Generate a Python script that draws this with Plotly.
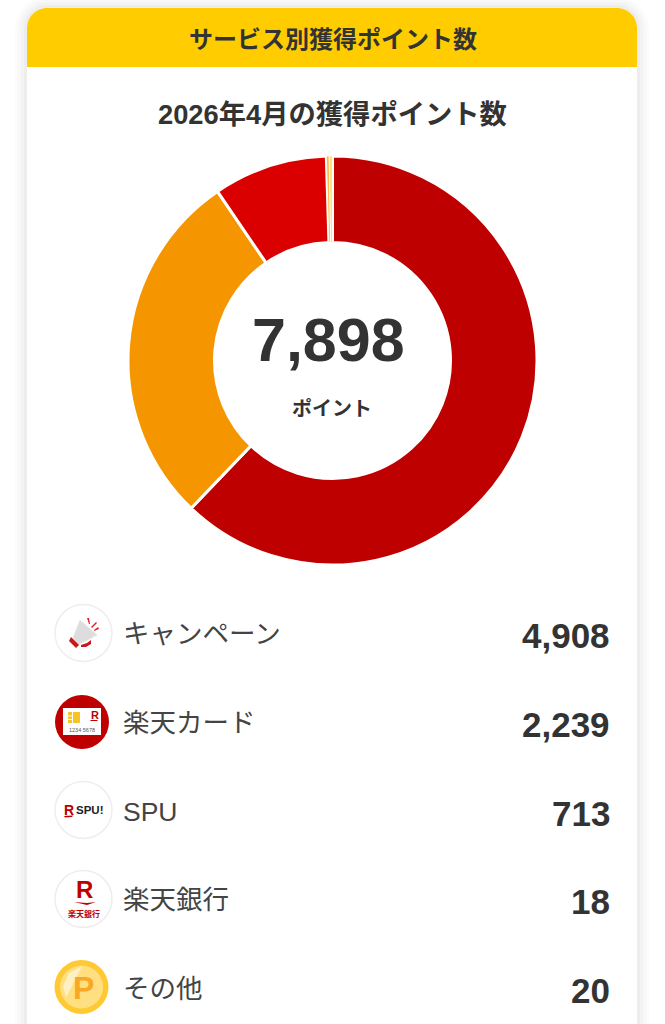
import plotly.graph_objects as go

W, H = 665, 1024

labels = ['キャンペーン', '楽天カード', 'SPU', '楽天銀行', 'その他']
points = [4908, 2239, 713, 18, 20]
colors = ['#BF0000', '#F59600', '#DA0000', '#FFB74D', '#FFE082']
total_text = '7,898'
header_text = 'サービス別獲得ポイント数'
chart_title = '2026年4月の獲得ポイント数'
unit_text = 'ポイント'

FONT = 'Liberation Sans, Noto Sans CJK JP, sans-serif'
JP = 'Noto Sans CJK JP, sans-serif'
INK = '#333333'


def px(x):
    return x / W


def py(y):
    return 1 - y / H


def poly(points_, fill, line=None, lw=0):
    path = 'M ' + ' L '.join(f'{px(x)} {py(y)}' for x, y in points_) + ' Z'
    return dict(type='path', path=path, xref='paper', yref='paper', fillcolor=fill,
                line=dict(color=line or fill, width=lw))


def circle(cx, cy, r, fill, line=None, lw=0):
    return dict(type='circle', xref='paper', yref='paper',
                x0=px(cx - r), x1=px(cx + r), y0=py(cy + r), y1=py(cy - r),
                fillcolor=fill, line=dict(color=line or fill, width=lw))


def top_round(x0, y0, x1, y1, r, fill, layer='below'):
    # rounded on the top corners only
    c = 0.45 * r
    path = (f'M {px(x0)} {py(y1)} L {px(x0)} {py(y0 + r)} '
            f'C {px(x0)} {py(y0 + c)} {px(x0 + c)} {py(y0)} {px(x0 + r)} {py(y0)} '
            f'L {px(x1 - r)} {py(y0)} '
            f'C {px(x1 - c)} {py(y0)} {px(x1)} {py(y0 + c)} {px(x1)} {py(y0 + r)} '
            f'L {px(x1)} {py(y1)} Z')
    return dict(type='path', path=path, xref='paper', yref='paper', fillcolor=fill,
                line=dict(width=0), layer=layer)


def note(x, y, text, size, color=INK, anchor='center', font=FONT, bold=False):
    return dict(x=px(x), y=py(y), xref='paper', yref='paper', text=text, showarrow=False,
                xanchor=anchor, yanchor='middle',
                font=dict(family=font, size=size, color=color, weight=700 if bold else 400))


fig = go.Figure(go.Pie(
    labels=labels,
    values=points,
    hole=0.577,
    sort=False,
    direction='clockwise',
    rotation=0,
    marker=dict(colors=colors, line=dict(color='white', width=[3, 3, 3, 0.8, 0.8])),
    textinfo='none',
    showlegend=False,
    domain=dict(x=[px(128), px(537)], y=[py(565), py(156)]),
))

shapes = []
# soft card shadow
for grow, alpha in [(12, 0.012), (9, 0.015), (6, 0.02), (3, 0.025)]:
    shapes.append(top_round(27 - grow, 8 - grow, 637 + grow, 1040, 20 + grow,
                            f'rgba(0,0,0,{alpha})'))
shapes.append(top_round(27, 8, 637, 1040, 20, 'white'))
shapes.append(top_round(27, 8, 637, 67, 20, '#FFCC00'))

# campaign icon
shapes.append(circle(83.5, 633, 28.5, 'white', '#EEEEEE', 1.5))
shapes.append(poly([(80, 620), (97, 635), (78, 645), (73, 638)], '#DDDDDD', '#E8E8E8', 1))
shapes.append(poly([(71, 637), (79, 645), (76, 648), (69, 641)], '#C8171D'))
shapes.append(poly([(81, 645), (87, 643), (91, 640), (91, 644), (86, 647), (81, 647)], '#C8171D'))
shapes.append(poly([(87, 618), (89, 618), (90, 624), (89, 624)], '#D8232A'))
shapes.append(poly([(96, 622), (97, 623), (92, 628), (91, 627)], '#D8232A'))
shapes.append(poly([(98, 627), (99, 629), (94, 631), (94, 630)], '#D8232A'))

# card icon
shapes.append(circle(82, 722, 27, '#BF0000'))
shapes.append(poly([(63, 708), (101, 708), (101, 735), (63, 735)], 'white'))
shapes.append(poly([(68, 712), (80, 712), (80, 723), (68, 723)], '#F7C325'))
shapes.append(poly([(72, 712), (73, 712), (73, 723), (72, 723)], 'white'))
shapes.append(poly([(68, 715.5), (72, 715.5), (72, 716.5), (68, 716.5)], 'white'))
shapes.append(poly([(68, 719), (72, 719), (72, 720), (68, 720)], 'white'))
shapes.append(poly([(90, 720), (98, 720), (97, 721), (91, 721)], '#BF0000'))

# SPU and bank icons
shapes.append(circle(83.5, 810, 28.5, 'white', '#EEEEEE', 1.5))
shapes.append(circle(83.5, 899, 28.5, 'white', '#EEEEEE', 1.5))
shapes.append(poly([(64, 816), (73, 815.5), (72, 817), (65, 817.5)], '#BF0000'))
shapes.append(poly([(74, 902), (87, 903), (96, 902), (87, 905)], '#BF0000'))

# coin icon
shapes.append(circle(81.5, 987, 27, '#FFC933'))
shapes.append(circle(81.5, 987, 21.5, '#FFDF80'))
shapes.append(poly([(66, 998), (63, 986), (69, 973), (82, 966)], '#FFF0C4'))

annotations = [
    note(332.5, 37, header_text, 24, bold=True, font=JP),
    note(332, 114.5, chart_title, 27.3, bold=True),
    note(328, 340, total_text, 61, bold=True),
    note(332, 407, unit_text, 20, bold=True, font=JP),
    # icon lettering
    note(95, 715, 'R', 11, '#BF0000', bold=True),
    note(82, 730, '1234 5678', 5.5, '#555555'),
    note(68.5, 810, 'R', 14, '#BF0000', bold=True),
    note(89.5, 810, 'SPU!', 11.5, '#222222', bold=True),
    note(84, 889, 'R', 24, '#BF0000', bold=True),
    note(83.5, 913, '楽天銀行', 8, '#BF0000', font=JP, bold=True),
    note(83, 988, 'P', 32, '#F9A825', bold=True),
]

row_y = [633, 722, 811, 899, 988]
for label, value, y in zip(labels, points, row_y):
    annotations.append(note(121, y + 1, label, 26.5, '#444444', anchor='left'))
    annotations.append(note(612, y + 2, f'{value:,}', 35, anchor='right', bold=True))

fig.update_layout(
    width=W,
    height=H,
    autosize=False,
    margin=dict(l=0, r=0, t=0, b=0),
    paper_bgcolor='white',
    plot_bgcolor='white',
    shapes=shapes,
    annotations=annotations,
)
fig.write_html('out.html', config=dict(displayModeBar=False),
               post_script="document.body.style.margin='0';document.body.style.overflow='hidden';")
